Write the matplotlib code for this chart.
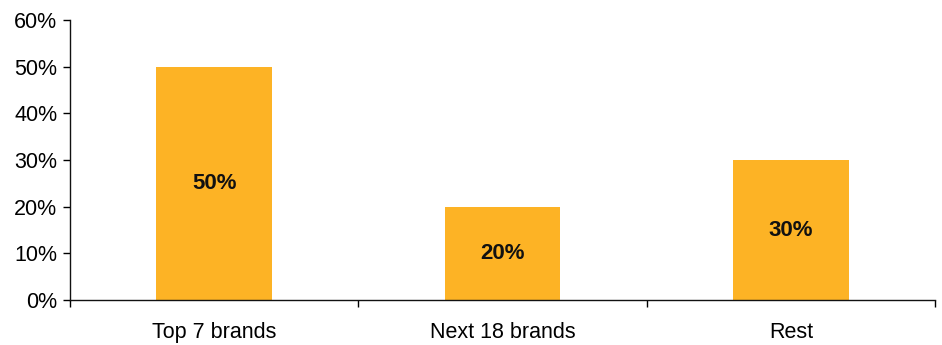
import matplotlib
matplotlib.use('Agg')
import matplotlib.pyplot as plt
import numpy as np

categories = ['Top 7 brands', 'Next 18 brands', 'Rest']
shares = [50, 20, 30]
yticks = [0, 10, 20, 30, 40, 50, 60]

plt.rcParams['font.family'] = ['Liberation Sans', 'DejaVu Sans']

fig = plt.figure(figsize=(9.42, 3.45), dpi=100)
ax = fig.add_axes([0.0743, 0.1304, 0.9183, 0.8116])

x = np.arange(len(categories))
bars = ax.bar(x, shares, width=0.4, color='#FDB325', zorder=2)
for b, v in zip(bars, shares):
    ax.text(b.get_x() + b.get_width() / 2, v / 2, f'{v}%', ha='center', va='center',
            fontsize=16, fontweight='bold', color='#111111')

ax.set_xlim(-0.5, len(categories) - 0.5)
ax.set_ylim(0, 60)
ax.set_yticks(yticks)
ax.set_yticklabels([f'{t}%' for t in yticks], fontsize=15.5)

# category labels between boundary ticks, Excel style
ax.set_xticks(np.arange(len(categories) + 1) - 0.5)
ax.set_xticklabels([])
ax.set_xticks(x, minor=True)
ax.set_xticklabels(categories, minor=True, fontsize=15.5)
ax.tick_params(axis='x', which='minor', length=0, pad=16)
ax.tick_params(axis='x', which='major', length=5, width=1, direction='out')
ax.tick_params(axis='y', length=5, width=1, direction='out', pad=4)

for s in ['top', 'right']:
    ax.spines[s].set_visible(False)
for s in ['left', 'bottom']:
    ax.spines[s].set_linewidth(1)
    ax.spines[s].set_color('#111111')

fig.savefig('out.png', dpi=100)
